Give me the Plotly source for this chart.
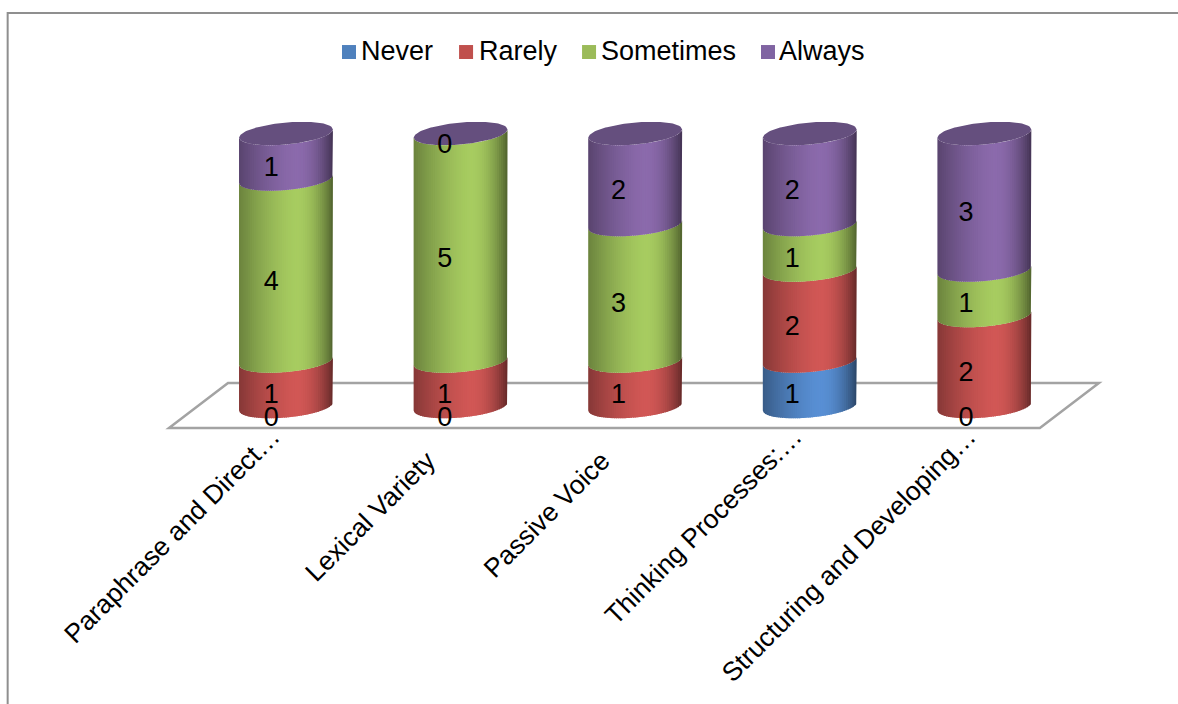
import math
import plotly.graph_objects as go

categories = [
    "Paraphrase and Direct…",
    "Lexical Variety",
    "Passive Voice",
    "Thinking Processes:…",
    "Structuring and Developing…",
]
never = [0, 0, None, 1, 0]
rarely = [1, 1, 1, 2, 2]
sometimes = [4, 5, 3, 1, 1]
always = [1, 0, 2, 2, 3]

series_names = ["Never", "Rarely", "Sometimes", "Always"]
series_values = [never, rarely, sometimes, always]
legend_colors = ["#4F81BD", "#C0504D", "#9BBB59", "#8064A2"]
bright_colors = [(88, 143, 212), (209, 87, 85), (167, 204, 96), (139, 106, 172)]
cap_color = "#654F7E"

# cylinder proportions, in axis units
HALF_WIDTH = 0.269
RY = 0.242
TILT = 0.09
STRIPS = 44
LABEL_DROP = 0.285
FONT = "Liberation Sans, Arial, sans-serif"
FONT_SIZE = 27
TICK_FONT_SIZE = 26.5

# horizontal nudge of each rotated category label, in axis units
TICK_NUDGE = [-0.08, -0.19, -0.19, -0.09, -0.093]
# truncated labels sit closer to the floor than the complete ones
TRUNCATED = [c.endswith("…") for c in categories]

# legend key left edges and label left edges, as fractions of the figure width
LEGEND_KEYS = [0.2903, 0.3897, 0.4941, 0.6460]
LEGEND_TEXTS = [0.3062, 0.4065, 0.5100, 0.6610]
LEGEND_Y = 0.879


def shade(u):
    """Brightness across the cylinder face, u running from -1 to 1."""
    peak = 0.22
    if u < peak:
        t = (peak - u) / (1 + peak)
        return 1 - 0.36 * t ** 1.5
    t = (u - peak) / (1 - peak)
    return 1 - 0.52 * t ** 2


def front(level, u):
    return level + TILT * u - RY * math.sqrt(max(0.0, 1 - u * u))


def back(level, u):
    return level + TILT * u + RY * math.sqrt(max(0.0, 1 - u * u))


fig = go.Figure()

# one trace per series and shading strip, holding that strip in every column
for s, name in enumerate(series_names):
    for k in range(STRIPS):
        u0 = -1 + 2 * k / STRIPS
        u1 = min(1.0, u0 + 3 / STRIPS)
        us = [u0 + (u1 - u0) * j / 4 for j in range(5)]
        xs, ys = [], []
        for c in range(len(categories)):
            base = sum(series_values[p][c] or 0 for p in range(s))
            value = series_values[s][c] or 0
            if value == 0:
                continue
            xs += [c + HALF_WIDTH * u for u in us] + [c + HALF_WIDTH * u for u in reversed(us)]
            ys += [front(base + value, u) for u in us] + [front(base, u) for u in reversed(us)]
            xs.append(None)
            ys.append(None)
        f = shade(u0 + 1 / STRIPS)
        r, g, b = (round(v * f) for v in bright_colors[s])
        fig.add_trace(go.Scatter(
            x=xs, y=ys, mode="lines", fill="toself", line=dict(width=0),
            fillcolor=f"rgb({r},{g},{b})", hoverinfo="skip", showlegend=False,
        ))

# top caps of the stacks
cap_x, cap_y = [], []
for c in range(len(categories)):
    total = sum(series_values[p][c] or 0 for p in range(4))
    us = [-1 + 2 * j / 60 for j in range(61)]
    cap_x += [c + HALF_WIDTH * u for u in us] + [c + HALF_WIDTH * u for u in reversed(us)] + [None]
    cap_y += [front(total, u) for u in us] + [back(total, u) for u in reversed(us)] + [None]
fig.add_trace(go.Scatter(
    x=cap_x, y=cap_y, mode="lines", fill="toself", line=dict(width=0),
    fillcolor=cap_color, hoverinfo="skip", showlegend=False,
))

# value labels on the front of each segment
for s, name in enumerate(series_names):
    xs, ys, texts = [], [], []
    for c in range(len(categories)):
        value = series_values[s][c]
        if value is None:
            continue
        base = sum(series_values[p][c] or 0 for p in range(s))
        xs.append(c - 0.085 - 0.005 * c)
        ys.append(base + value / 2 - LABEL_DROP)
        texts.append(str(value))
    fig.add_trace(go.Scatter(
        x=xs, y=ys, text=texts, mode="text", textposition="middle center",
        textfont=dict(family=FONT, size=FONT_SIZE, color="#000000"),
        hoverinfo="skip", showlegend=False,
    ))

# an empty trace keeps the second category axis alive
fig.add_trace(go.Scatter(x=[None], y=[None], xaxis="x2", hoverinfo="skip", showlegend=False))

floor_line = dict(color="#A3A3A3", width=2.5)
border_line = dict(color="#8F8F8F", width=2)

shapes = [
    dict(
        type="path", layer="below", xref="x", yref="y", line=floor_line,
        path="M -0.67 -0.4725 L 4.318 -0.4725 L 4.656 0.516 L -0.332 0.516 Z",
    ),
    dict(
        type="path", layer="above", xref="paper", yref="paper", line=border_line,
        path="M 0.0065 -0.64 L 0.0065 0.97 L 1 0.97",
    ),
]
annotations = []

# legend row: a coloured key and a label for each series
for name, color, kx, tx in zip(series_names, legend_colors, LEGEND_KEYS, LEGEND_TEXTS):
    shapes.append(dict(
        type="rect", xref="paper", yref="paper", line=dict(width=0), fillcolor=color,
        x0=kx, x1=kx + 14 / 1178, y0=LEGEND_Y - 7 / 430, y1=LEGEND_Y + 7 / 430,
    ))
    annotations.append(dict(
        text=name, xref="paper", yref="paper", x=tx, y=LEGEND_Y + 1 / 430,
        xanchor="left", yanchor="middle", showarrow=False, xshift=-2,
        font=dict(family=FONT, size=FONT_SIZE, color="#000000"),
    ))

X_RANGE = [-1.638, 5.109]
tick_positions = [c + d for c, d in zip(range(len(categories)), TICK_NUDGE)]


def category_axis(keep_truncated, standoff):
    """A bottom axis that carries only the truncated or only the complete labels."""
    chosen = [i for i, t in enumerate(TRUNCATED) if t == keep_truncated]
    return dict(
        range=X_RANGE,
        tickmode="array",
        tickvals=[tick_positions[i] for i in chosen],
        ticktext=[categories[i] for i in chosen],
        tickangle=-45,
        ticklabelstandoff=standoff,
        tickfont=dict(family=FONT, size=TICK_FONT_SIZE, color="#000000"),
        showgrid=False,
        zeroline=False,
        showline=False,
        ticks="",
        automargin=False,
    )


fig.update_layout(
    width=1178,
    height=704,
    margin=dict(l=0, r=0, t=0, b=274),
    paper_bgcolor="#FFFFFF",
    plot_bgcolor="#FFFFFF",
    font=dict(family=FONT, size=FONT_SIZE, color="#000000"),
    showlegend=False,
    xaxis=category_axis(True, -15),
    xaxis2=dict(category_axis(False, 9), overlaying="x", anchor="y", side="bottom"),
    yaxis=dict(
        range=[-0.516, 8.934],
        showgrid=False,
        zeroline=False,
        showline=False,
        showticklabels=False,
        ticks="",
        automargin=False,
    ),
    shapes=shapes,
    annotations=annotations,
)

fig.write_html("out.html")
